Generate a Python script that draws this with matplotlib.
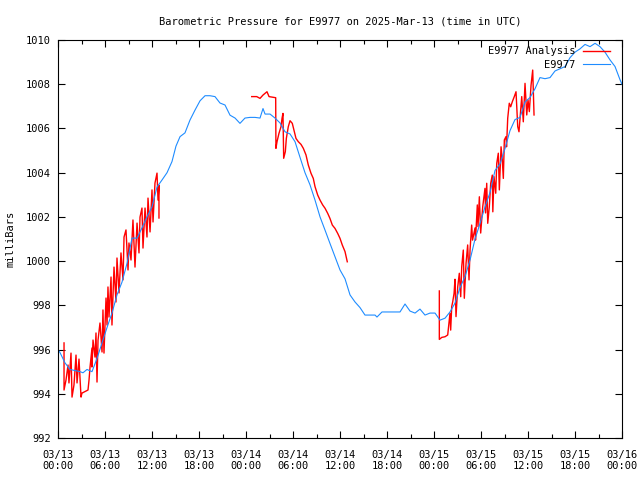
import numpy as np
import matplotlib
matplotlib.use("Agg")
import matplotlib.pyplot as plt
from matplotlib.ticker import MultipleLocator

# hours since 2025-03-13 00:00 UTC
obs_hours = [0.00, 0.26, 0.89, 1.53, 2.17, 2.81, 3.19, 3.70, 4.34, 4.98, 5.62, 6.26, 6.89, 7.53,
             8.17, 8.81, 9.45, 10.09, 10.72, 11.36, 12.00, 12.64, 13.28, 13.92, 14.55, 15.06,
             15.58, 16.21, 16.85, 17.49, 18.13, 18.77, 19.40, 20.04, 20.68, 21.32, 21.96, 22.60,
             23.23, 23.87, 24.51, 25.15, 25.79, 26.17, 26.43, 27.07, 27.70, 28.34, 28.98, 29.62,
             30.26, 30.89, 31.53, 32.17, 32.81, 33.45, 34.09, 34.72, 35.36, 36.00, 36.64, 37.28,
             37.92, 38.55, 39.19, 39.83, 40.47, 40.72, 41.36, 42.38, 43.66, 44.30, 44.94, 45.58,
             46.21, 46.85, 47.49, 48.13, 48.77, 49.41, 50.04, 50.68, 51.32, 51.96, 52.60, 53.24,
             53.87, 54.51, 55.15, 55.79, 56.43, 57.07, 57.70, 58.34, 58.98, 59.62, 60.26, 60.90,
             61.53, 62.17, 62.81, 63.45, 64.09, 64.73, 65.36, 66.00, 66.64, 67.28, 67.92, 68.56,
             69.19, 69.83, 70.47, 71.11, 71.75, 72.00]
obs_mb = [996.0, 995.86, 995.4, 995.1, 995.05, 995.0, 994.95, 995.1, 995.0, 995.6, 996.3, 997.0,
          997.65, 998.47, 999.05, 999.9, 1001.04, 1001.04, 1001.5, 1002.0, 1002.45, 1003.35,
          1003.67, 1004.0, 1004.5, 1005.2, 1005.63, 1005.8, 1006.38, 1006.83, 1007.25, 1007.48,
          1007.48, 1007.44, 1007.15, 1007.06, 1006.6, 1006.47, 1006.23, 1006.47, 1006.5, 1006.5,
          1006.47, 1006.9, 1006.65, 1006.65, 1006.47, 1006.25, 1005.85, 1005.75, 1005.4, 1004.7,
          1004.0, 1003.45, 1002.76, 1002.0, 1001.4, 1000.8, 1000.2, 999.6, 999.2, 998.47, 998.15,
          997.9, 997.56, 997.56, 997.56, 997.47, 997.7, 997.7, 997.7, 998.06, 997.74, 997.65,
          997.83, 997.56, 997.65, 997.65, 997.33, 997.42, 997.7, 998.1, 998.8, 999.3, 1000.05,
          1001.0, 1001.7, 1002.45, 1003.1, 1004.1, 1004.4, 1005.1, 1005.9, 1006.4, 1006.5, 1007.2,
          1007.4, 1007.8, 1008.3, 1008.25, 1008.3, 1008.6, 1008.7, 1008.8, 1009.2, 1009.45, 1009.6,
          1009.8, 1009.7, 1009.85, 1009.7, 1009.45, 1009.1, 1008.8, 1008.2, 1008.0]

ana1_hours = [0.77, 0.77, 1.02, 1.28, 1.40, 1.66, 1.79, 2.04, 2.30, 2.43, 2.68, 2.94, 3.06, 3.83,
              3.96, 4.09, 4.34, 4.34, 4.47, 4.72, 4.85, 4.98, 5.11, 5.36, 5.62, 5.74, 5.87, 6.13,
              6.26, 6.38, 6.51, 6.77, 6.89, 7.15, 7.40, 7.53, 7.79, 8.04, 8.30, 8.43, 8.68, 8.94,
              9.06, 9.32, 9.57, 9.83, 10.09, 10.34, 10.47, 10.72, 10.85, 11.11, 11.36, 11.49,
              11.75, 12.00, 12.13, 12.38, 12.64, 12.77, 12.89, 12.89]
ana1_mb = [996.30, 994.17, 994.62, 995.30, 994.49, 995.84, 993.85, 994.40, 995.75, 994.49, 995.57,
           993.85, 994.03, 994.17, 994.62, 995.21, 996.07, 995.21, 996.43, 995.66, 996.75, 994.53,
           996.43, 997.20, 995.89, 997.79, 995.84, 998.33, 997.11, 998.83, 997.47, 999.28, 997.11,
           999.73, 998.15, 1000.14, 998.56, 1000.37, 999.15, 1001.09, 1001.41, 999.60, 1000.82,
           1000.05, 1001.86, 999.73, 1001.72, 1000.37, 1001.99, 1002.40, 1000.59, 1002.40, 1001.09,
           1002.85, 1001.32, 1003.22, 1001.77, 1003.53, 1003.98, 1002.76, 1003.44, 1001.95]

ana2_hours = [24.73, 25.37, 25.79, 26.17, 26.68, 26.94, 27.79, 27.82, 27.96, 28.21, 28.47, 28.60,
              28.72, 28.81, 29.02, 29.15, 29.40, 29.62, 29.91, 30.17, 30.38, 30.68, 31.02, 31.32,
              31.66, 31.95, 32.30, 32.59, 32.81, 33.15, 33.45, 33.79, 34.09, 34.43, 34.72, 35.02,
              35.36, 35.71, 36.00, 36.29, 36.64, 36.93]
ana2_mb = [1007.44, 1007.44, 1007.36, 1007.51, 1007.66, 1007.44, 1007.39, 1005.10, 1005.40,
           1005.78, 1006.08, 1006.46, 1006.68, 1004.65, 1004.95, 1005.55, 1006.08, 1006.35,
           1006.23, 1005.85, 1005.55, 1005.40, 1005.28, 1005.10, 1004.80, 1004.35, 1003.97,
           1003.74, 1003.37, 1002.99, 1002.76, 1002.54, 1002.39, 1002.16, 1001.93, 1001.63,
           1001.48, 1001.25, 1001.03, 1000.73, 1000.43, 999.97]

ana3_hours = [48.68, 48.68, 48.99, 49.41, 49.75, 49.92, 50.04, 50.13, 50.26, 50.39, 50.56, 50.68,
              50.81, 51.03, 51.23, 51.41, 51.54, 51.74, 51.87, 52.09, 52.30, 52.47, 52.60, 52.81,
              52.92, 53.24, 53.30, 53.53, 53.62, 53.79, 53.96, 54.22, 54.51, 54.58, 54.73, 54.86,
              55.06, 55.24, 55.44, 55.51, 55.66, 55.88, 56.01, 56.21, 56.34, 56.56, 56.72, 56.85,
              56.98, 57.19, 57.26, 57.41, 57.61, 57.79, 58.00, 58.25, 58.47, 58.69, 58.85, 58.98,
              59.20, 59.40, 59.62, 59.84, 60.00, 60.17, 60.39, 60.60, 60.77]
ana3_mb = [998.65, 996.46, 996.55, 996.58, 996.66, 997.26, 997.64, 996.88, 997.94, 998.16, 998.54,
           999.18, 997.49, 998.84, 999.45, 998.39, 999.75, 1000.50, 998.32, 999.90, 1000.73,
           999.15, 1000.50, 1001.63, 1000.95, 1001.50, 1000.95, 1002.54, 1001.56, 1002.91,
           1001.27, 1002.46, 1003.29, 1002.18, 1003.52, 1001.71, 1002.46, 1003.52, 1003.89,
           1002.23, 1003.82, 1003.07, 1004.42, 1004.88, 1003.22, 1005.17, 1004.57, 1003.74,
           1005.48, 1005.63, 1005.17, 1006.46, 1007.14, 1006.98, 1007.21, 1007.44, 1007.66,
           1006.08, 1005.85, 1006.46, 1007.44, 1006.30, 1008.04, 1006.61, 1007.29, 1006.76,
           1007.96, 1008.64, 1006.61]

tick_hours = np.arange(0, 73, 6)
tick_labels = ["03/13\n00:00", "03/13\n06:00", "03/13\n12:00", "03/13\n18:00",
               "03/14\n00:00", "03/14\n06:00", "03/14\n12:00", "03/14\n18:00",
               "03/15\n00:00", "03/15\n06:00", "03/15\n12:00", "03/15\n18:00",
               "03/16\n00:00"]

plt.rcParams["font.family"] = "DejaVu Sans Mono"
plt.rcParams["font.size"] = 7.5

fig = plt.figure(figsize=(6.4, 4.8), dpi=100)
ax = fig.add_axes([58/640, 42/480, 564/640, 398/480])

ana_h = ana1_hours + [np.nan] + ana2_hours + [np.nan] + ana3_hours
ana_v = ana1_mb + [np.nan] + ana2_mb + [np.nan] + ana3_mb
ax.plot(ana_h, ana_v, color="#ff0000", lw=1.0, label="E9977 Analysis")
ax.plot(obs_hours, obs_mb, color="#1e8cff", lw=0.8, label="E9977")

ax.set_xlim(0, 72)
ax.set_ylim(992, 1010)
ax.set_xticks(tick_hours)
ax.set_xticklabels(tick_labels)
ax.xaxis.set_minor_locator(MultipleLocator(3))
ax.set_yticks(np.arange(992, 1011, 2))
ax.tick_params(which="both", direction="in", top=True, right=True, width=0.8)
ax.tick_params(axis="x", pad=8.5)
ax.tick_params(axis="y", pad=5)
ax.tick_params(which="major", length=5)
ax.tick_params(which="minor", length=3)
for s in ax.spines.values():
    s.set_linewidth(0.8)

ax.set_ylabel("milliBars", labelpad=7.5)
ax.set_title("Barometric Pressure for E9977 on 2025-Mar-13 (time in UTC)", fontsize=7.5, pad=11)
ax.legend(loc="upper right", bbox_to_anchor=(0.988, 0.997), frameon=False, markerfirst=False,
          handlelength=2.6, borderaxespad=0.2, borderpad=0.3, labelspacing=0.3, handletextpad=0.7)

plt.savefig("out.png", dpi=100)
